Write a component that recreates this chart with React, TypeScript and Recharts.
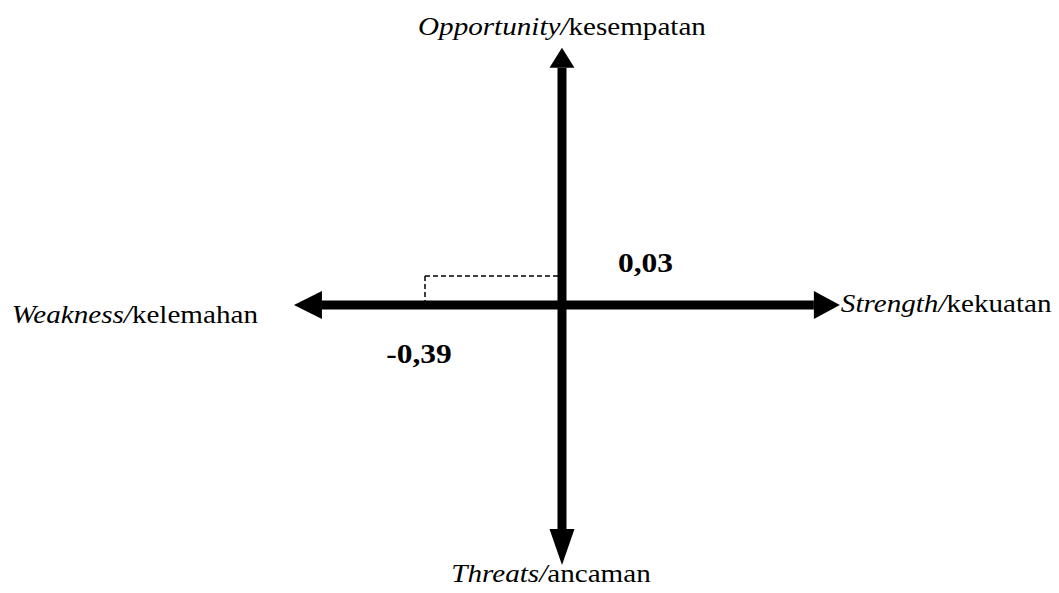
import React from "react";
import {
  ComposedChart,
  Scatter,
  XAxis,
  YAxis,
  ReferenceLine,
  ReferenceDot,
} from "recharts";

// axis extents (score units)
const xEnds = [-0.763, 0.791];
const yEnds = [-0.269, 0.266];

// IFAS / EFAS result
const point = { x: -0.39, y: 0.03 };
const pointData = [point];
const pointLabels = ["-0,39", "0,03"];

// axis captions: [italic part, plain part]
const axisCaptions = {
  top: ["Opportunity/", "kesempatan"],
  bottom: ["Threats/", "ancaman"],
  left: ["Weakness/", "kelemahan"],
  right: ["Strength/", "kekuatan"],
};

const FONT = "Liberation Serif, Times New Roman, DejaVu Serif, serif";
// the source image is a little stretched sideways
const STRETCH = 1.165;

type ArrowProps = {
  x1?: number;
  y1?: number;
  x2?: number;
  y2?: number;
};

// thick line with a filled arrowhead at both ends
const makeArrow =
  (headStart: number, headEnd: number, halfW: number) => (props: ArrowProps) => {
    const x1 = Number(props.x1);
    const y1 = Number(props.y1);
    const x2 = Number(props.x2);
    const y2 = Number(props.y2);
    const len = Math.hypot(x2 - x1, y2 - y1) || 1;
    const ux = (x2 - x1) / len;
    const uy = (y2 - y1) / len;
    const nx = -uy;
    const ny = ux;
    const sx = x1 + ux * headStart;
    const sy = y1 + uy * headStart;
    const ex = x2 - ux * headEnd;
    const ey = y2 - uy * headEnd;
    const head = (tx: number, ty: number, bx: number, by: number) =>
      `${tx},${ty} ${bx + nx * halfW},${by + ny * halfW} ${bx - nx * halfW},${by - ny * halfW}`;
    return (
      <g>
        <line x1={sx} y1={sy} x2={ex} y2={ey} stroke="#000" strokeWidth={9} />
        <polygon points={head(x1, y1, sx, sy)} fill="#000" />
        <polygon points={head(x2, y2, ex, ey)} fill="#000" />
      </g>
    );
  };

type DotProps = { cx?: number; cy?: number };

const caption =
  (parts: string[], dx: number, dy: number, anchor: "start" | "middle" | "end") =>
  (props: DotProps) => (
    <g
      transform={`translate(${Number(props.cx) + dx},${Number(props.cy) + dy}) scale(${STRETCH},1)`}
    >
      <text
        x={0}
        y={0}
        textAnchor={anchor}
        style={{ fontFamily: FONT, fontSize: 25 }}
        fill="#000"
      >
        <tspan fontStyle="italic">{parts[0]}</tspan>
        <tspan>{parts[1]}</tspan>
      </text>
    </g>
  );

const valueLabel =
  (text: string, dx: number, dy: number, anchor: "start" | "middle") =>
  (props: DotProps) => (
    <g
      transform={`translate(${Number(props.cx) + dx},${Number(props.cy) + dy}) scale(${STRETCH},1)`}
    >
      <text
        x={0}
        y={0}
        textAnchor={anchor}
        style={{ fontFamily: FONT, fontSize: 27, fontWeight: "bold" }}
        fill="#000"
      >
        {text}
      </text>
    </g>
  );

export default function App() {
  return (
    <div style={{ position: "absolute", left: 0, top: 0, background: "#fff" }}>
      <ComposedChart
        width={1059}
        height={593}
        margin={{ top: 0, right: 0, bottom: 0, left: 0 }}
      >
        <XAxis
          type="number"
          dataKey="x"
          domain={[-1.5998, 1.4148]}
          allowDataOverflow
          hide
        />
        <YAxis
          type="number"
          dataKey="y"
          domain={[-0.2979, 0.3155]}
          allowDataOverflow
          hide
        />
        <Scatter
          data={pointData}
          isAnimationActive={false}
          shape={() => <g />}
        />

        {/* dashed guides to the result point */}
        <ReferenceLine
          segment={[
            { x: point.x, y: 0 },
            { x: point.x, y: point.y },
          ]}
          stroke="#000"
          strokeWidth={1.5}
          strokeDasharray="5 3"
        />
        <ReferenceLine
          segment={[
            { x: point.x, y: point.y },
            { x: 0, y: point.y },
          ]}
          stroke="#000"
          strokeWidth={1.5}
          strokeDasharray="5 3"
        />

        {/* quadrant axes */}
        <ReferenceLine
          segment={[
            { x: xEnds[0], y: 0 },
            { x: xEnds[1], y: 0 },
          ]}
          shape={makeArrow(28, 26, 14)}
        />
        <ReferenceLine
          segment={[
            { x: 0, y: yEnds[1] },
            { x: 0, y: yEnds[0] },
          ]}
          shape={makeArrow(20, 36, 12.5)}
        />

        {/* captions */}
        <ReferenceDot
          x={0}
          y={yEnds[1]}
          r={1}
          shape={caption(axisCaptions.top, 0, -13, "middle")}
        />
        <ReferenceDot
          x={0}
          y={yEnds[0]}
          r={1}
          shape={caption(axisCaptions.bottom, -11, 17, "middle")}
        />
        <ReferenceDot
          x={xEnds[0]}
          y={0}
          r={1}
          shape={caption(axisCaptions.left, -36, 18, "end")}
        />
        <ReferenceDot
          x={xEnds[1]}
          y={0}
          r={1}
          shape={caption(axisCaptions.right, 1, 7, "start")}
        />

        {/* values */}
        <ReferenceDot
          x={point.x}
          y={0}
          r={1}
          shape={valueLabel(pointLabels[0], -6, 58, "middle")}
        />
        <ReferenceDot
          x={0}
          y={point.y}
          r={1}
          shape={valueLabel(pointLabels[1], 56, -4, "start")}
        />
      </ComposedChart>
    </div>
  );
}
